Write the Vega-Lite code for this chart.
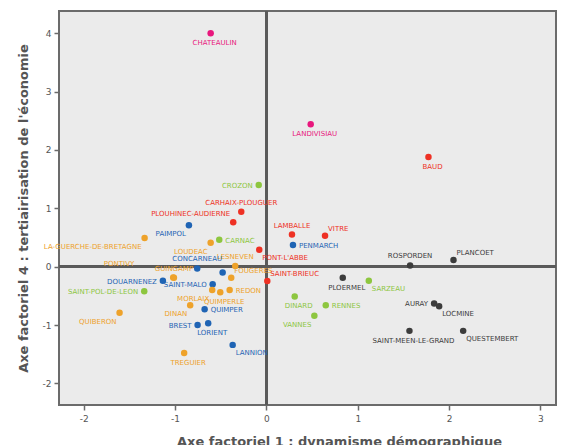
{
  "$schema": "https://vega.github.io/schema/vega-lite/v6.json",
  "width": 497,
  "height": 394,
  "autosize": {"type": "none"},
  "padding": {"left": 59, "top": 11, "right": 15, "bottom": 40},
  "background": "#ffffff",
  "config": {
    "view": {"stroke": "#6b6b6b", "strokeWidth": 2, "fill": "#ebebeb"},
    "axis": {
      "grid": false,
      "domain": false,
      "tickColor": "#6b6b6b",
      "tickWidth": 1.5,
      "tickSize": 5,
      "labelFont": "DejaVu Sans",
      "labelFontSize": 9,
      "labelColor": "#555555",
      "titleFont": "DejaVu Sans",
      "titleFontSize": 13,
      "titleFontWeight": "bold",
      "titleColor": "#555555"
    },
    "text": {"font": "DejaVu Sans", "fontSize": 7, "baseline": "middle"}
  },
  "data": {
    "values": [
      {"n": "CHATEAULIN", "x": -0.61, "y": 4.0, "c": "1", "p": "S"},
      {"n": "LANDIVISIAU", "x": 0.485, "y": 2.44, "c": "1", "p": "S"},
      {"n": "BAUD", "x": 1.774, "y": 1.88, "c": "2", "p": "S"},
      {"n": "CROZON", "x": -0.084, "y": 1.40, "c": "5", "p": "W"},
      {"n": "CARHAIX-PLOUGUER", "x": -0.275, "y": 0.94, "c": "2", "p": "N"},
      {"n": "PLOUHINEC-AUDIERNE", "x": -0.363, "y": 0.76, "c": "2", "p": "NW"},
      {"n": "PAIMPOL", "x": -0.848, "y": 0.71, "c": "3", "p": "SW"},
      {"n": "CARNAC", "x": -0.516, "y": 0.46, "c": "5", "p": "E"},
      {"n": "LOUDEAC", "x": -0.61, "y": 0.41, "c": "4", "p": "SW"},
      {"n": "LA-GUERCHE-DE-BRETAGNE", "x": -1.333, "y": 0.49, "c": "4", "p": "SW"},
      {"n": "LAMBALLE", "x": 0.28, "y": 0.55, "c": "2", "p": "N"},
      {"n": "VITRE", "x": 0.642, "y": 0.53, "c": "2", "p": "NE"},
      {"n": "PENMARCH", "x": 0.291, "y": 0.37, "c": "3", "p": "E"},
      {"n": "PONT-L'ABBE", "x": -0.078, "y": 0.29, "c": "2", "p": "SE"},
      {"n": "LESNEVEN", "x": -0.341, "y": 0.01, "c": "4", "p": "N"},
      {"n": "CONCARNEAU", "x": -0.757, "y": -0.03, "c": "3", "p": "N"},
      {"n": "", "x": -0.479, "y": -0.10, "c": "3", "p": "none"},
      {"n": "PONTIVY", "x": -1.02, "y": -0.185, "c": "4", "p": "FNW"},
      {"n": "GUINGAMP", "x": -1.012, "y": -0.19, "c": "4", "p": "N"},
      {"n": "FOUGERES", "x": -0.385, "y": -0.19, "c": "4", "p": "NE"},
      {"n": "DOUARNENEZ", "x": -1.133, "y": -0.24, "c": "3", "p": "W"},
      {"n": "SAINT-POL-DE-LEON", "x": -1.337, "y": -0.42, "c": "5", "p": "W"},
      {"n": "SAINT-MALO", "x": -0.588, "y": -0.30, "c": "3", "p": "W"},
      {"n": "MORLAIX", "x": -0.593, "y": -0.40, "c": "4", "p": "SW"},
      {"n": "QUIMPERLE", "x": -0.505, "y": -0.44, "c": "4", "p": "S"},
      {"n": "REDON", "x": -0.402, "y": -0.40, "c": "4", "p": "E"},
      {"n": "SAINT-BRIEUC", "x": 0.01, "y": -0.245, "c": "2", "p": "NE"},
      {"n": "DINAN", "x": -0.834, "y": -0.66, "c": "4", "p": "SW"},
      {"n": "QUIMPER", "x": -0.676, "y": -0.73, "c": "3", "p": "E"},
      {"n": "QUIBERON", "x": -1.607, "y": -0.79, "c": "4", "p": "SW"},
      {"n": "BREST", "x": -0.753, "y": -1.00, "c": "3", "p": "W"},
      {"n": "LORIENT", "x": -0.637, "y": -0.97, "c": "3", "p": "S"},
      {"n": "LANNION", "x": -0.369, "y": -1.34, "c": "3", "p": "SE"},
      {"n": "TREGUIER", "x": -0.90, "y": -1.48, "c": "4", "p": "S"},
      {"n": "PLOERMEL", "x": 0.836, "y": -0.19, "c": "6", "p": "S"},
      {"n": "SARZEAU", "x": 1.121, "y": -0.24, "c": "5", "p": "SE"},
      {"n": "ROSPORDEN", "x": 1.573, "y": 0.02, "c": "6", "p": "N"},
      {"n": "PLANCOET", "x": 2.048, "y": 0.115, "c": "6", "p": "NE"},
      {"n": "DINARD", "x": 0.31, "y": -0.51, "c": "5", "p": "S"},
      {"n": "RENNES", "x": 0.65, "y": -0.66, "c": "5", "p": "E"},
      {"n": "VANNES", "x": 0.525, "y": -0.84, "c": "5", "p": "SW"},
      {"n": "AURAY", "x": 1.836, "y": -0.63, "c": "6", "p": "W"},
      {"n": "LOCMINE", "x": 1.891, "y": -0.68, "c": "6", "p": "SE"},
      {"n": "SAINT-MEEN-LE-GRAND", "x": 1.566, "y": -1.10, "c": "6", "p": "S"},
      {"n": "QUESTEMBERT", "x": 2.154, "y": -1.10, "c": "6", "p": "SE"}
    ]
  },
  "layer": [
    {
      "mark": {"type": "rule", "color": "#5a5a5a", "strokeWidth": 2},
      "encoding": {
        "x": {"datum": 0, "type": "quantitative", "scale": {"domain": [-2.27, 3.17], "nice": false, "zero": false},
              "axis": {"values": [-2, -1, 0, 1, 2, 3], "labelExpr": "datum.value + ''", "title": "Axe factoriel 1 : dynamisme démographique", "labelPadding": 4, "titlePadding": 12, "titleX": 280}}
      }
    },
    {
      "mark": {"type": "rule", "color": "#5a5a5a", "strokeWidth": 2},
      "encoding": {
        "y": {"datum": 0, "type": "quantitative", "scale": {"domain": [-2.37, 4.38], "nice": false, "zero": false},
              "axis": {"values": [-2, -1, 0, 1, 2, 3, 4], "labelExpr": "datum.value + ''", "title": "Axe factoriel 4 : tertiairisation de l'économie", "labelPadding": 3, "titlePadding": 12}}
      }
    },
    {
      "mark": {"type": "circle", "size": 42, "opacity": 1},
      "encoding": {
        "x": {"field": "x", "type": "quantitative"},
        "y": {"field": "y", "type": "quantitative"},
        "color": {"field": "c", "type": "nominal", "legend": null,
                  "scale": {"domain": ["1", "2", "3", "4", "5", "6"], "range": ["#e8177d", "#ee3124", "#1f64b4", "#eea22a", "#8dc63f", "#3c3c3c"]}}
      }
    },
    {
      "transform": [{"filter": "datum.p == 'S'"}],
      "mark": {"type": "text", "align": "center", "dx": 4, "dy": 10},
      "encoding": {"x": {"field": "x", "type": "quantitative"}, "y": {"field": "y", "type": "quantitative"}, "text": {"field": "n"}, "color": {"field": "c", "type": "nominal"}}
    },
    {
      "transform": [{"filter": "datum.p == 'N'"}],
      "mark": {"type": "text", "align": "center", "dx": 0, "dy": -9},
      "encoding": {"x": {"field": "x", "type": "quantitative"}, "y": {"field": "y", "type": "quantitative"}, "text": {"field": "n"}, "color": {"field": "c", "type": "nominal"}}
    },
    {
      "transform": [{"filter": "datum.p == 'E'"}],
      "mark": {"type": "text", "align": "left", "dx": 6, "dy": 1},
      "encoding": {"x": {"field": "x", "type": "quantitative"}, "y": {"field": "y", "type": "quantitative"}, "text": {"field": "n"}, "color": {"field": "c", "type": "nominal"}}
    },
    {
      "transform": [{"filter": "datum.p == 'W'"}],
      "mark": {"type": "text", "align": "right", "dx": -6, "dy": 1},
      "encoding": {"x": {"field": "x", "type": "quantitative"}, "y": {"field": "y", "type": "quantitative"}, "text": {"field": "n"}, "color": {"field": "c", "type": "nominal"}}
    },
    {
      "transform": [{"filter": "datum.p == 'SW'"}],
      "mark": {"type": "text", "align": "right", "dx": -3, "dy": 9},
      "encoding": {"x": {"field": "x", "type": "quantitative"}, "y": {"field": "y", "type": "quantitative"}, "text": {"field": "n"}, "color": {"field": "c", "type": "nominal"}}
    },
    {
      "transform": [{"filter": "datum.p == 'SE'"}],
      "mark": {"type": "text", "align": "left", "dx": 3, "dy": 8},
      "encoding": {"x": {"field": "x", "type": "quantitative"}, "y": {"field": "y", "type": "quantitative"}, "text": {"field": "n"}, "color": {"field": "c", "type": "nominal"}}
    },
    {
      "transform": [{"filter": "datum.p == 'NW'"}],
      "mark": {"type": "text", "align": "right", "dx": -3, "dy": -8},
      "encoding": {"x": {"field": "x", "type": "quantitative"}, "y": {"field": "y", "type": "quantitative"}, "text": {"field": "n"}, "color": {"field": "c", "type": "nominal"}}
    },
    {
      "transform": [{"filter": "datum.p == 'NE'"}],
      "mark": {"type": "text", "align": "left", "dx": 3, "dy": -7},
      "encoding": {"x": {"field": "x", "type": "quantitative"}, "y": {"field": "y", "type": "quantitative"}, "text": {"field": "n"}, "color": {"field": "c", "type": "nominal"}}
    },
    {
      "transform": [{"filter": "datum.p == 'FNW'"}],
      "mark": {"type": "text", "align": "right", "dx": -39, "dy": -13},
      "encoding": {"x": {"field": "x", "type": "quantitative"}, "y": {"field": "y", "type": "quantitative"}, "text": {"field": "n"}, "color": {"field": "c", "type": "nominal"}}
    }
  ]
}
